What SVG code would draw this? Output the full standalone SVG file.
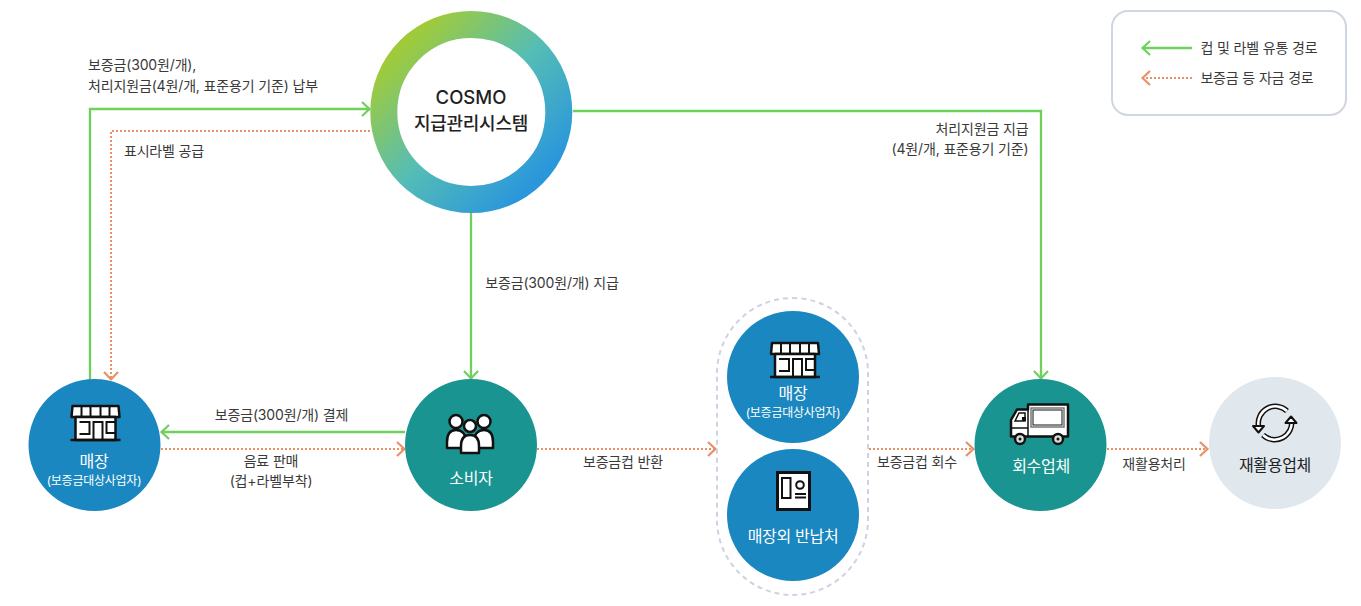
<svg xmlns="http://www.w3.org/2000/svg" xmlns:xlink="http://www.w3.org/1999/xlink" width="1361" height="606" viewBox="0 0 1361 606">
<style>
text{font-family:Inter,"Noto Sans CJK KR","Noto Sans",sans-serif;text-anchor:middle}
.l{font-size:14px;fill:#3a3a3a;letter-spacing:-.15px}
.n{font-size:16px;fill:#fff;letter-spacing:-.3px}
.s{font-size:12px;fill:#fff;letter-spacing:-.25px}
.g{fill:none;stroke:#6fd05c;stroke-width:2.300}
.o{fill:none;stroke:#ea9066;stroke-width:2;stroke-dasharray:2 2}
.i{fill:#fff;stroke:#111;stroke-width:2.500;stroke-linejoin:round}
.blue{fill:#1a87c0}.teal{fill:#1a9490}
</style>
<defs>
<linearGradient id="ring" x1="0.12" y1="0.12" x2="0.88" y2="0.88"><stop offset="0" stop-color="#9fcb3b"/><stop offset=".5" stop-color="#55bdb5"/><stop offset="1" stop-color="#2b97db"/></linearGradient>
<marker id="ag" markerWidth="14" markerHeight="18" refX="11" refY="9" orient="auto" markerUnits="userSpaceOnUse"><path d="M3 2L10.500 9L3 16" fill="none" stroke="#6fd05c" stroke-width="2.200"/></marker>
<marker id="ao" markerWidth="14" markerHeight="18" refX="11" refY="9" orient="auto" markerUnits="userSpaceOnUse"><path d="M3 2L10.500 9L3 16" fill="none" stroke="#ea9066" stroke-width="2.200"/></marker>
<g id="store">
<path class="i" d="M-23 -19H23L24 -8H-24Z"/>
<path d="M-14 -19V-8M-5 -19V-8M5 -19V-8M14 -19V-8" stroke="#111" stroke-width="2"/>
<path class="i" d="M-20 -8H20V15H-20Z"/>
<path d="M-16 -3H-6V9H-16M-2 15V-3H7V15M20 -3H11V8H20" fill="none" stroke="#111" stroke-width="2"/>
<path d="M-25 15H25" stroke="#111" stroke-width="2.500"/>
</g>
</defs>
<g id="connectors">
<path class="g" d="M90 380V109H370" marker-end="url(#ag)"/>
<path class="o" d="M370 131H111V380" marker-end="url(#ao)"/>
<path class="g" d="M573 111H1041V379" marker-end="url(#ag)"/>
<path class="g" d="M471 213V379" marker-end="url(#ag)"/>
<path class="g" d="M405 432H161" marker-end="url(#ag)"/>
<path class="o" d="M161 449H405" marker-end="url(#ao)"/>
<path class="o" d="M537 449H716" marker-end="url(#ao)"/>
<path class="o" d="M869 449H974" marker-end="url(#ao)"/>
<path class="o" d="M1107 449H1208" marker-end="url(#ao)"/>
</g>
<g id="labels">
<text class="l" x="88" y="70" style="text-anchor:start">보증금(300원/개),</text>
<text class="l" x="88" y="91" style="text-anchor:start">처리지원금(4원/개, 표준용기 기준) 납부</text>
<text class="l" x="164" y="156">표시라벨 공급</text>
<text class="l" x="982" y="134">처리지원금 지급</text>
<text class="l" x="960" y="154">(4원/개, 표준용기 기준)</text>
<text class="l" x="552" y="288">보증금(300원/개) 지급</text>
<text class="l" x="281.500" y="420">보증금(300원/개) 결제</text>
<text class="l" x="271" y="466">음료 판매</text>
<text class="l" x="271" y="486">(컵+라벨부착)</text>
<text class="l" x="623" y="467">보증금컵 반환</text>
<text class="l" x="917" y="467">보증금컵 회수</text>
<text class="l" x="1154" y="469">재활용처리</text>
</g>
<g id="legend">
<rect x="1112" y="11" width="234" height="104" rx="16" fill="#fff" stroke="#cfd6e2" stroke-width="2"/>
<path class="g" d="M1192 48H1142" marker-end="url(#ag)"/>
<path class="o" d="M1192 78H1142" marker-end="url(#ao)"/>
<text class="l" x="1259" y="53">컵 및 라벨 유통 경로</text>
<text class="l" x="1257" y="83">보증금 등 자금 경로</text>
</g>
<g id="node-cosmo">
<circle cx="471.300" cy="112" r="87.500" fill="none" stroke="url(#ring)" stroke-width="27"/>
<text x="471" y="104" style="font-size:18.500px;font-weight:500;fill:#222">COSMO</text>
<text x="471" y="130" style="font-size:18px;font-weight:500;fill:#222;letter-spacing:-.3px">지급관리시스템</text>
</g>
<g id="node-store1">
<circle class="blue" cx="94.500" cy="445" r="66"/>
<use href="#store" x="95.500" y="425"/>
<text class="n" x="94" y="467">매장</text>
<text class="s" x="94" y="485">(보증금대상사업자)</text>
</g>
<g id="node-consumer">
<circle class="teal" cx="471" cy="445" r="66"/>
<path class="i" d="M447 448V442C447 434 450 430 456 430C462 430 466 434 466 442V448Z"/>
<path class="i" d="M474 448V442C474 434 478 430 484 430C490 430 493 434 493 442V448Z"/>
<circle class="i" cx="456" cy="421.500" r="6.500"/><circle class="i" cx="484" cy="421.500" r="6.500"/>
<path class="i" d="M461 453V446C461 439 464 435 470 435C476 435 479 439 479 446V453Z"/>
<circle class="i" cx="470" cy="426" r="6"/>
<text class="n" x="471" y="484">소비자</text>
</g>
<g id="node-return-group">
<rect x="717" y="298" width="151" height="297" rx="75.500" fill="none" stroke="#cdd3e0" stroke-width="2" stroke-dasharray="5 4"/>
</g>
<g id="node-store2">
<circle class="blue" cx="793" cy="377" r="66"/>
<use href="#store" x="795" y="362"/>
<text class="n" x="793" y="399">매장</text>
<text class="s" x="793" y="417">(보증금대상사업자)</text>
</g>
<g id="node-return">
<circle class="blue" cx="793" cy="515" r="66"/>
<rect x="777.500" y="472.500" width="32" height="37" fill="#fff" stroke="#111" stroke-width="3"/>
<rect x="782" y="478" width="8.500" height="20" fill="none" stroke="#111" stroke-width="2"/>
<circle cx="800" cy="485" r="3.800" fill="none" stroke="#111" stroke-width="2"/>
<path d="M795 494H806M795 497.500H806" stroke="#111" stroke-width="1.800"/>
<text class="n" x="793" y="542">매장외 반납처</text>
</g>
<g id="node-collector">
<circle class="teal" cx="1040.500" cy="445" r="66"/>
<path class="i" d="M1028 404.500H1068V436.500H1011V420L1017 409.500H1028Z"/>
<path d="M1028 405V436M1011 428H1028" stroke="#111" stroke-width="1.500"/>
<rect x="1031" y="408" width="33" height="19" fill="#fff" stroke="#777" stroke-width="1.500"/>
<rect x="1033" y="410" width="29" height="15" fill="#fff" stroke="#111" stroke-width="1"/>
<path d="M1015 421L1019 413H1025V421Z" fill="#fff" stroke="#111" stroke-width="1.500"/>
<path d="M1022 417H1026V421H1022Z" fill="#111"/>
<circle cx="1020" cy="439" r="5" fill="#ddd" stroke="#111" stroke-width="2.500"/><circle cx="1020" cy="439" r="1.500" fill="#111"/>
<circle cx="1058" cy="439" r="5" fill="#ddd" stroke="#111" stroke-width="2.500"/><circle cx="1058" cy="439" r="1.500" fill="#111"/>
<text class="n" x="1041" y="472">회수업체</text>
</g>
<g id="node-recycler">
<circle cx="1275" cy="443" r="66" fill="#e0e8ee"/>
<path d="M1258.500 426A17 17 0 0 1 1287 411M1291.500 420A17 17 0 0 1 1263 435" fill="none" stroke="#111" stroke-width="5.500"/>
<path d="M1258.500 426A17 17 0 0 1 1287 411M1291.500 420A17 17 0 0 1 1263 435" fill="none" stroke="#fff" stroke-width="2.500"/>
<path d="M1253 426L1264 426L1258.500 432.500Z" fill="#fff" stroke="#111" stroke-width="2" stroke-linejoin="round"/>
<path d="M1296.500 423L1285.500 423L1291 416.500Z" fill="#fff" stroke="#111" stroke-width="2" stroke-linejoin="round"/>
<text x="1275" y="471" style="font-size:16px;fill:#222;letter-spacing:-.3px">재활용업체</text>
</g>
</svg>
